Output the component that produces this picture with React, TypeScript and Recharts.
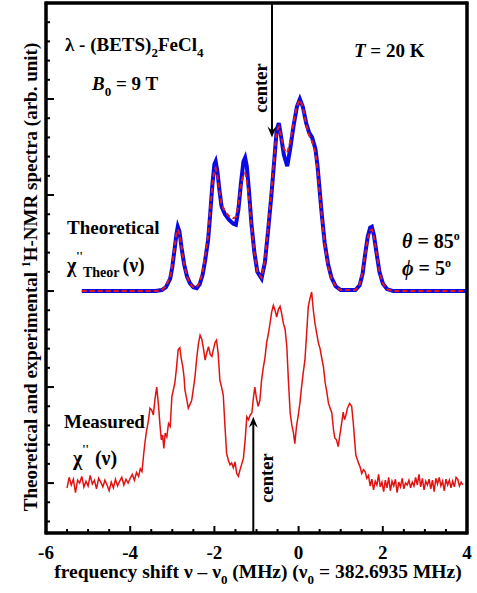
import React from 'react';
import { LineChart, Line, XAxis, YAxis, ReferenceLine } from 'recharts';

// frequency shift (MHz) vs spectrum, theory curves are offset by +2
const theoryBlue: [number, number][] = [
  [-5.15, 2.0], [-3.4, 2.0], [-3.25, 2.01], [-3.15, 2.04], [-3.05, 2.13], [-3.0, 2.25],
  [-2.95, 2.42], [-2.9, 2.6], [-2.87, 2.67], [-2.83, 2.62], [-2.78, 2.45], [-2.72, 2.28],
  [-2.65, 2.15], [-2.58, 2.08], [-2.5, 2.04], [-2.42, 2.03], [-2.35, 2.07], [-2.28, 2.17],
  [-2.22, 2.32], [-2.15, 2.53], [-2.1, 2.8], [-2.05, 3.1], [-2.0, 3.32], [-1.97, 3.35],
  [-1.93, 3.25], [-1.88, 3.05], [-1.83, 2.88], [-1.75, 2.8], [-1.65, 2.74], [-1.55, 2.7],
  [-1.49, 2.69], [-1.43, 2.85], [-1.37, 3.12], [-1.31, 3.35], [-1.27, 3.39], [-1.23, 3.3],
  [-1.18, 3.05], [-1.12, 2.7], [-1.05, 2.4], [-0.98, 2.2], [-0.88, 2.13], [-0.8, 2.3],
  [-0.72, 2.65], [-0.65, 2.98], [-0.58, 3.35], [-0.52, 3.68], [-0.47, 3.75], [-0.42, 3.62],
  [-0.35, 3.42], [-0.27, 3.3], [-0.2, 3.48], [-0.12, 3.72], [-0.04, 3.92], [0.03, 4.0],
  [0.1, 3.92], [0.18, 3.75], [0.25, 3.65], [0.32, 3.6], [0.4, 3.48], [0.45, 3.3],
  [0.5, 3.05], [0.55, 2.8], [0.62, 2.5], [0.7, 2.28], [0.78, 2.14], [0.88, 2.05],
  [1.0, 2.01], [1.35, 2.01], [1.45, 2.06], [1.52, 2.18], [1.58, 2.38], [1.64, 2.56],
  [1.7, 2.66], [1.74, 2.67], [1.79, 2.58], [1.85, 2.4], [1.92, 2.2], [2.0, 2.08],
  [2.1, 2.02], [2.25, 2.0], [4.0, 2.0],
];

const theoryRed: [number, number][] = [
  [-5.15, 2.0], [-3.4, 2.0], [-3.25, 2.01], [-3.15, 2.05], [-3.05, 2.15], [-3.0, 2.28],
  [-2.95, 2.44], [-2.9, 2.6], [-2.87, 2.64], [-2.83, 2.6], [-2.78, 2.45], [-2.72, 2.28],
  [-2.65, 2.15], [-2.58, 2.08], [-2.5, 2.04], [-2.42, 2.04], [-2.35, 2.09], [-2.28, 2.2],
  [-2.22, 2.36], [-2.15, 2.58], [-2.1, 2.84], [-2.05, 3.1], [-2.0, 3.26], [-1.97, 3.28],
  [-1.93, 3.2], [-1.88, 3.04], [-1.83, 2.9], [-1.75, 2.83], [-1.65, 2.78], [-1.55, 2.76],
  [-1.49, 2.77], [-1.43, 2.9], [-1.37, 3.1], [-1.31, 3.21], [-1.27, 3.23], [-1.23, 3.15],
  [-1.18, 2.98], [-1.12, 2.68], [-1.05, 2.4], [-0.98, 2.2], [-0.88, 2.14], [-0.8, 2.32],
  [-0.72, 2.68], [-0.65, 3.02], [-0.58, 3.38], [-0.52, 3.66], [-0.47, 3.71], [-0.42, 3.62],
  [-0.35, 3.48], [-0.27, 3.44], [-0.2, 3.55], [-0.12, 3.75], [-0.04, 3.93], [0.03, 3.99],
  [0.1, 3.92], [0.18, 3.74], [0.25, 3.62], [0.32, 3.56], [0.4, 3.44], [0.45, 3.26],
  [0.5, 3.02], [0.55, 2.78], [0.62, 2.48], [0.7, 2.26], [0.78, 2.13], [0.88, 2.05],
  [1.0, 2.01], [1.35, 2.01], [1.45, 2.07], [1.52, 2.2], [1.58, 2.38], [1.64, 2.55],
  [1.7, 2.63], [1.74, 2.64], [1.79, 2.56], [1.85, 2.4], [1.92, 2.2], [2.0, 2.08],
  [2.1, 2.02], [2.25, 2.0], [4.0, 2.0],
];

const measured: [number, number][] = [
  [-5.5, -0.05], [-5.45, 0.06], [-5.4, -0.02], [-5.35, 0.04], [-5.3, -0.1], [-5.25, 0.03],
  [-5.2, 0.0], [-5.15, 0.07], [-5.1, -0.04], [-5.05, 0.02], [-5.0, -0.03], [-4.95, 0.08],
  [-4.9, -0.01], [-4.85, 0.03], [-4.8, -0.06], [-4.75, 0.05], [-4.7, 0.01], [-4.65, -0.04],
  [-4.6, 0.03], [-4.55, -0.02], [-4.5, -0.08], [-4.45, 0.01], [-4.4, -0.05], [-4.35, 0.04],
  [-4.3, -0.03], [-4.25, 0.02], [-4.2, 0.06], [-4.15, -0.02], [-4.1, 0.04], [-4.05, 0.0],
  [-4.0, 0.05], [-3.95, 0.09], [-3.9, 0.03], [-3.85, 0.11], [-3.8, 0.07], [-3.76, 0.15],
  [-3.72, 0.12], [-3.68, 0.3], [-3.65, 0.42], [-3.61, 0.55], [-3.57, 0.64], [-3.53, 0.78],
  [-3.49, 0.76], [-3.45, 0.71], [-3.41, 0.88], [-3.37, 1.0], [-3.33, 0.82], [-3.29, 0.59],
  [-3.26, 0.45], [-3.23, 0.5], [-3.2, 0.36], [-3.17, 0.52], [-3.13, 0.48], [-3.09, 0.62],
  [-3.05, 0.59], [-3.01, 0.9], [-2.97, 0.98], [-2.94, 1.04], [-2.9, 1.2], [-2.86, 1.39],
  [-2.82, 1.41], [-2.79, 1.3], [-2.75, 1.21], [-2.72, 1.1], [-2.7, 0.97], [-2.66, 0.88],
  [-2.62, 0.78], [-2.58, 0.82], [-2.54, 0.86], [-2.5, 0.98], [-2.46, 1.11], [-2.42, 1.3],
  [-2.38, 1.45], [-2.34, 1.54], [-2.3, 1.5], [-2.26, 1.4], [-2.22, 1.28], [-2.18, 1.36],
  [-2.14, 1.42], [-2.1, 1.34], [-2.06, 1.32], [-2.02, 1.4], [-1.98, 1.47], [-1.95, 1.49],
  [-1.91, 1.35], [-1.87, 1.07], [-1.83, 1.0], [-1.79, 0.92], [-1.75, 0.6], [-1.71, 0.31],
  [-1.67, 0.24], [-1.63, 0.19], [-1.59, 0.21], [-1.55, 0.16], [-1.51, 0.22], [-1.47, 0.1],
  [-1.43, 0.07], [-1.39, 0.14], [-1.35, 0.2], [-1.31, 0.26], [-1.27, 0.45], [-1.23, 0.69],
  [-1.19, 0.66], [-1.15, 0.71], [-1.11, 0.73], [-1.07, 0.9], [-1.04, 1.0], [-1.0, 0.88],
  [-0.96, 0.8], [-0.92, 0.86], [-0.88, 1.07], [-0.84, 1.2], [-0.8, 1.3], [-0.76, 1.46],
  [-0.72, 1.55], [-0.68, 1.66], [-0.64, 1.78], [-0.6, 1.85], [-0.56, 1.8], [-0.52, 1.73],
  [-0.48, 1.81], [-0.44, 1.84], [-0.4, 1.76], [-0.36, 1.66], [-0.32, 1.6], [-0.28, 1.42],
  [-0.24, 1.05], [-0.2, 0.73], [-0.16, 0.6], [-0.12, 0.52], [-0.09, 0.41], [-0.05, 0.59],
  [-0.01, 0.7], [0.03, 0.83], [0.07, 1.0], [0.11, 1.15], [0.15, 1.28], [0.19, 1.55],
  [0.23, 1.84], [0.27, 1.92], [0.31, 1.99], [0.35, 1.8], [0.39, 1.66], [0.43, 1.56],
  [0.47, 1.46], [0.51, 1.4], [0.55, 1.3], [0.59, 1.21], [0.63, 1.05], [0.67, 0.95],
  [0.71, 0.83], [0.75, 0.78], [0.79, 0.73], [0.83, 0.55], [0.86, 0.47], [0.9, 0.45],
  [0.94, 0.38], [0.98, 0.5], [1.02, 0.62], [1.06, 0.74], [1.09, 0.66], [1.12, 0.7],
  [1.16, 0.78], [1.21, 0.83], [1.26, 0.8], [1.3, 0.62], [1.33, 0.45], [1.36, 0.29],
  [1.4, 0.24], [1.43, 0.2], [1.46, 0.17], [1.5, 0.1], [1.54, 0.14], [1.58, 0.12],
  [1.62, 0.05], [1.66, 0.08], [1.7, -0.03], [1.74, 0.04], [1.78, -0.07], [1.82, 0.02],
  [1.86, -0.02], [1.9, 0.09], [1.94, -0.04], [1.98, 0.01], [2.02, -0.09], [2.06, 0.03],
  [2.1, -0.05], [2.14, 0.06], [2.18, -0.08], [2.22, 0.02], [2.26, -0.03], [2.3, 0.04],
  [2.34, -0.1], [2.38, 0.01], [2.42, -0.04], [2.46, 0.05], [2.5, -0.06], [2.54, 0.0],
  [2.58, -0.02], [2.62, 0.03], [2.66, -0.05], [2.7, 0.01], [2.74, -0.03], [2.78, 0.06],
  [2.82, -0.02], [2.86, 0.09], [2.9, -0.04], [2.94, 0.05], [2.98, -0.07], [3.02, 0.02],
  [3.06, -0.02], [3.1, 0.04], [3.14, -0.06], [3.18, 0.03], [3.22, -0.09], [3.26, 0.05],
  [3.3, -0.01], [3.34, 0.06], [3.38, -0.03], [3.42, 0.02], [3.46, -0.08], [3.5, 0.04],
  [3.54, -0.02], [3.58, 0.03], [3.62, -0.05], [3.66, 0.02], [3.7, -0.04], [3.74, 0.06],
  [3.78, 0.04], [3.82, -0.03], [3.86, 0.01], [3.9, -0.02],
];

const xTicks = [-6, -5.5, -5, -4.5, -4, -3.5, -3, -2.5, -2, -1.5, -1, -0.5, 0, 0.5, 1, 1.5, 2, 2.5, 3, 3.5, 4];
const xLabels = [-6, -4, -2, 0, 2, 4];
const yTicks = [-0.4, -0.2, 0, 0.2, 0.4, 0.6, 0.8, 1, 1.2, 1.4, 1.6, 1.8, 2, 2.2, 2.4, 2.6, 2.8, 3, 3.2, 3.4, 3.6, 3.8, 4, 4.2, 4.4, 4.6, 4.8, 5];

const W = 477;
const H = 593;
const M = { top: 0, right: 0, bottom: 30, left: 36 };
const AXIS_W = 10;
const TOP_H = 3;
const BOTTOM_H = 30;
const EDGE = 3;
// plot box derived from the margins and axis sizes above
const box = {
  left: M.left + AXIS_W,
  right: W - M.right - AXIS_W,
  top: M.top + TOP_H,
  bottom: H - M.bottom - BOTTOM_H,
};

const toRows = (pts: [number, number][]) => pts.map(([x, y]) => ({ x, y }));

const FONT = '"Liberation Serif", "Times New Roman", serif';
const isLabel = (v: number) => xLabels.some((l) => Math.abs(l - v) < 1e-6);
const isMajorY = (v: number) => Math.abs(v - Math.round(v)) < 1e-6;
const frame = { stroke: '#000', strokeWidth: 3 };

const BottomTick = (p: any) => {
  const v = p.payload.value;
  const major = isLabel(v);
  return (
    <g>
      <line x1={p.x} x2={p.x} y1={p.y} y2={p.y - (major ? 7 : 4)} stroke="#000" strokeWidth={2} />
      {major && (
        <text x={p.x} y={p.y + 26} textAnchor="middle" fontFamily={FONT} fontWeight="bold" fontSize={19} fill="#000">
          {v}
        </text>
      )}
    </g>
  );
};

const TopTick = (p: any) => {
  const major = isLabel(p.payload.value);
  return <line x1={p.x} x2={p.x} y1={p.y} y2={p.y + (major ? 7 : 4)} stroke="#000" strokeWidth={2} />;
};

const LeftTick = (p: any) => {
  const major = isMajorY(p.payload.value);
  return <line x1={p.x} x2={p.x + (major ? 8 : 4)} y1={p.y} y2={p.y} stroke="#000" strokeWidth={2} />;
};

const RightTick = (p: any) => {
  const major = isMajorY(p.payload.value);
  return <line x1={p.x} x2={p.x - (major ? 8 : 4)} y1={p.y} y2={p.y} stroke="#000" strokeWidth={2} />;
};

const Arrow = (p: any) => {
  const { x1, y1, x2, y2 } = p;
  const dir = y2 > y1 ? 1 : -1;
  return (
    <g>
      <line x1={x1} y1={y1} x2={x2} y2={y2 - dir * 4} stroke="#000" strokeWidth={2} />
      <path
        d={`M${x2},${y2} L${x2 - 4.5},${y2 - dir * 11} L${x2},${y2 - dir * 7} L${x2 + 4.5},${y2 - dir * 11} Z`}
        fill="#000"
      />
    </g>
  );
};

const txt = { fontFamily: FONT, fontWeight: 'bold' as const, fill: '#000' };

export default function App() {
  const bw = box.right - box.left;
  const bh = box.bottom - box.top;
  return (
    <div style={{ position: 'absolute', left: 0, top: 0, width: W, height: H, background: '#fff' }}>
      <LineChart width={W} height={H} margin={M}>
        <XAxis
          type="number"
          dataKey="x"
          domain={[-6, 4]}
          ticks={xTicks}
          interval={0}
          allowDataOverflow
          height={BOTTOM_H}
          tickSize={0}
          tickMargin={0}
          tick={<BottomTick />}
          axisLine={frame}
        />
        <XAxis
          xAxisId="top"
          orientation="top"
          type="number"
          dataKey="x"
          domain={[-6, 4]}
          ticks={xTicks}
          interval={0}
          height={TOP_H}
          tickSize={0}
          tickMargin={0}
          tick={<TopTick />}
          axisLine={frame}
        />
        <YAxis
          type="number"
          domain={[-0.52, 5]}
          ticks={yTicks}
          interval={0}
          allowDataOverflow
          width={AXIS_W}
          tickSize={0}
          tickMargin={0}
          tick={<LeftTick />}
          axisLine={frame}
        />
        <YAxis
          yAxisId="right"
          orientation="right"
          type="number"
          domain={[-0.52, 5]}
          ticks={yTicks}
          interval={0}
          width={AXIS_W}
          tickSize={0}
          tickMargin={0}
          tick={<RightTick />}
          axisLine={frame}
        />
        <Line data={toRows(measured)} dataKey="y" type="linear" stroke="#e31212" strokeWidth={1.5} dot={false} isAnimationActive={false} />
        <Line data={toRows(theoryBlue)} dataKey="y" type="linear" stroke="#0a0ae6" strokeWidth={4} dot={false} isAnimationActive={false} />
        <Line data={toRows(theoryRed)} dataKey="y" type="linear" stroke="#e31a1a" strokeWidth={2} strokeDasharray="5 3" dot={false} isAnimationActive={false} />
        <ReferenceLine segment={[{ x: -0.632, y: 5 }, { x: -0.632, y: 3.6 }]} shape={<Arrow />} />
        <ReferenceLine segment={[{ x: -1.076, y: -0.52 }, { x: -1.076, y: 0.69 }]} shape={<Arrow />} />
      </LineChart>
      <svg width={W} height={H} style={{ position: 'absolute', left: 0, top: 0, pointerEvents: 'none' }}>
        <g fill="#000">
          <rect x={box.left - EDGE / 2} y={box.top - EDGE / 2} width={bw + EDGE} height={EDGE} />
          <rect x={box.left - EDGE / 2} y={box.bottom - EDGE / 2} width={bw + EDGE} height={EDGE} />
          <rect x={box.left - EDGE / 2} y={box.top - EDGE / 2} width={EDGE} height={bh + EDGE} />
          <rect x={box.right - EDGE / 2} y={box.top - EDGE / 2} width={EDGE} height={bh + EDGE} />
        </g>
        <text x={65} y={51} fontSize={19} {...txt}>
          λ - (BETS)<tspan dy={6} fontSize={13}>2</tspan><tspan dy={-6}>FeCl</tspan><tspan dy={6} fontSize={13}>4</tspan>
        </text>
        <text x={92} y={90} fontSize={19} {...txt}>
          <tspan fontStyle="italic">B</tspan><tspan dy={6} fontSize={13}>0</tspan><tspan dy={-6}> = 9 T</tspan>
        </text>
        <text x={354} y={57} fontSize={19} {...txt}>
          <tspan fontStyle="italic">T</tspan> = 20 K
        </text>
        <text x={67} y={234} fontSize={19} {...txt}>Theoretical</text>
        <text x={67} y={272} fontSize={20} {...txt}>
          χ<tspan dy={-12} fontSize={12}>''</tspan><tspan dy={17} fontSize={14}>Theor</tspan><tspan dy={-5} dx={3}>(ν)</tspan>
        </text>
        <text x={402} y={248} fontSize={20} {...txt}>
          <tspan fontStyle="italic">θ</tspan> = 85<tspan dy={-8} fontSize={12}>o</tspan>
        </text>
        <text x={402} y={275} fontSize={20} {...txt}>
          <tspan fontStyle="italic">ϕ</tspan> = 5<tspan dy={-8} fontSize={12}>o</tspan>
        </text>
        <text x={64} y={428} fontSize={19} {...txt}>Measured</text>
        <text x={73} y={465} fontSize={20} {...txt}>
          χ<tspan dy={-12} fontSize={12}>''</tspan><tspan dy={12} dx={6}>(ν)</tspan>
        </text>
        <text x={267} y={88} fontSize={18.5} textAnchor="middle" transform="rotate(-90 267 88)" {...txt}>center</text>
        <text x={273} y={478} fontSize={18.5} textAnchor="middle" transform="rotate(-90 273 478)" {...txt}>center</text>
        <text x={37} y={277} fontSize={19} textAnchor="middle" transform="rotate(-90 37 277)" {...txt}>
          Theoretical and experimental <tspan dy={-7} fontSize={12}>1</tspan><tspan dy={7}>H-NMR spectra (arb. unit)</tspan>
        </text>
        <text x={258} y={578} fontSize={19.5} textAnchor="middle" {...txt}>
          frequency shift ν – ν<tspan dy={6} fontSize={13}>0</tspan><tspan dy={-6}>  (MHz)  (ν</tspan><tspan dy={6} fontSize={13}>0</tspan><tspan dy={-6}> = 382.6935 MHz)</tspan>
        </text>
      </svg>
    </div>
  );
}
